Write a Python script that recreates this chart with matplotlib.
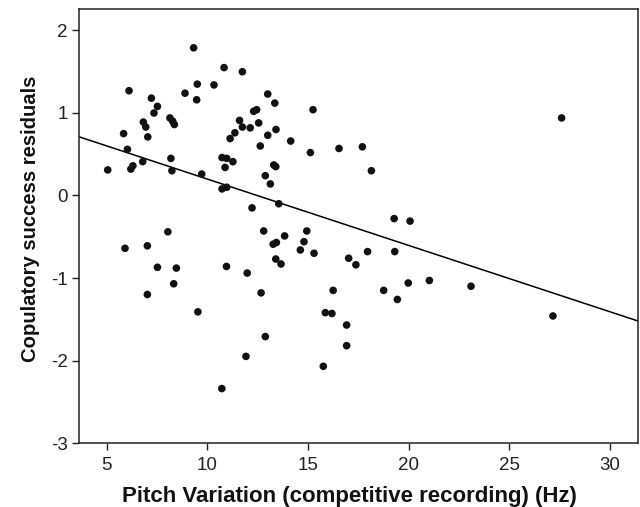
import matplotlib
matplotlib.use('Agg')
import matplotlib.pyplot as plt
import numpy as np

plt.rcParams['font.family'] = ['Liberation Sans', 'DejaVu Sans']
plt.rcParams['axes.unicode_minus'] = False

# Datos (Hz, residuos)
pitch_var = [5.05, 6.11, 5.84, 6.03, 6.2, 6.3, 6.79, 6.82, 6.94, 7.04, 7.22, 7.35,
             7.52, 8.14, 8.28, 8.36, 8.19, 8.24, 8.89, 9.32, 9.47, 9.5, 9.72, 10.33,
             10.83, 11.74, 13.0, 13.35, 12.3, 12.45, 11.6, 11.74, 12.13, 12.55, 11.37,
             11.13, 13.0, 13.41, 12.63, 14.14, 15.25, 15.12, 16.54, 17.7, 18.15,
             10.73, 10.96, 11.27, 10.88, 13.3, 13.4, 12.88, 13.13, 10.73, 10.96,
             12.22, 13.55, 12.8, 13.27, 13.43, 13.84, 14.94, 14.8, 14.62, 15.3, 13.4,
             13.66, 10.95, 11.98, 12.67, 9.53, 12.88, 11.92, 10.72, 17.02, 17.38,
             17.96, 19.28, 19.31, 16.25, 15.86, 16.19, 16.92, 16.92, 15.76, 18.76,
             19.44, 20.07, 19.98, 21.03, 23.1, 27.17, 27.6, 5.91, 7.02, 8.04, 7.52,
             8.46, 8.33, 7.02]
residuals = [0.31, 1.27, 0.75, 0.56, 0.32, 0.36, 0.41, 0.89, 0.83, 0.71, 1.18, 1.0,
             1.08, 0.94, 0.90, 0.86, 0.45, 0.30, 1.24, 1.79, 1.16, 1.35, 0.26, 1.34,
             1.55, 1.50, 1.23, 1.12, 1.02, 1.04, 0.91, 0.83, 0.82, 0.88, 0.76,
             0.69, 0.73, 0.80, 0.60, 0.66, 1.04, 0.52, 0.57, 0.59, 0.30,
             0.46, 0.45, 0.41, 0.34, 0.37, 0.35, 0.24, 0.14, 0.08, 0.10,
             -0.15, -0.10, -0.43, -0.59, -0.57, -0.49, -0.43, -0.56, -0.66, -0.70, -0.77,
             -0.83, -0.86, -0.94, -1.18, -1.41, -1.71, -1.95, -2.34, -0.76, -0.84,
             -0.68, -0.28, -0.68, -1.15, -1.42, -1.43, -1.57, -1.82, -2.07, -1.15,
             -1.26, -0.31, -1.06, -1.03, -1.10, -1.46, 0.94, -0.64, -0.61, -0.44, -0.87,
             -0.88, -1.07, -1.20]

# Recta de regresión (y = a + b·x)
fit_intercept = 1.003
fit_slope = -0.0804

x_ticks = [5, 10, 15, 20, 25, 30]
y_ticks = [-3, -2, -1, 0, 1, 2]

fig = plt.figure(figsize=(6.4, 5.07), dpi=100)
ax = fig.add_axes([0.123, 0.1262, 0.8734, 0.8555])

ax.scatter(pitch_var, residuals, s=30, color='#111111', edgecolors='none', zorder=3)

x_line = np.array([3.61, 31.38])
ax.plot(x_line, fit_intercept + fit_slope * x_line, color='black', linewidth=1.1)

ax.set_xlim(3.61, 31.38)
ax.set_ylim(-3, 2.257)
ax.set_xticks(x_ticks)
ax.set_yticks(y_ticks)
ax.tick_params(direction='out', length=5, width=1, labelsize=13.5, colors='#222222')
ax.tick_params(axis='x', pad=5)
ax.tick_params(axis='y', pad=3)

for sp in ax.spines.values():
    sp.set_linewidth(1.1)
    sp.set_color('#222222')

# Títulos de los ejes
fig.text(0.5456, 0.0105, 'Pitch Variation (competitive recording) (Hz)', fontsize=16,
         fontweight='bold', ha='center', va='baseline', color='#111111')
fig.text(0.047, 0.569, 'Copulatory success residuals', fontsize=14.6, fontweight='bold',
         rotation=90, ha='center', va='center', color='#111111')

fig.savefig('out.png', dpi=100)
